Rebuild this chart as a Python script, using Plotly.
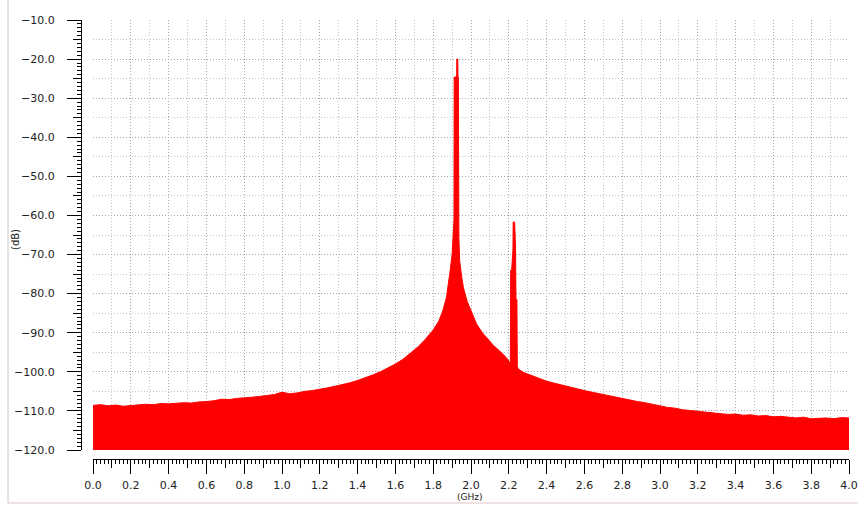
import plotly.graph_objects as go

# ---------------- data ----------------
freq_ghz = [
    0.00, 0.04, 0.08, 0.12, 0.16, 0.20, 0.24, 0.28, 0.32, 0.36,
    0.40, 0.44, 0.48, 0.52, 0.56, 0.60, 0.64, 0.68, 0.72, 0.76,
    0.80, 0.84, 0.88, 0.92, 0.96, 1.00, 1.04, 1.08, 1.12, 1.16,
    1.20, 1.24, 1.28, 1.32, 1.36, 1.40, 1.44, 1.48, 1.52, 1.56,
    1.60, 1.64, 1.68, 1.72, 1.76, 1.80, 1.83, 1.85, 1.87, 1.88,
    1.89, 1.90, 1.905, 1.908, 1.910, 1.911, 1.924, 1.925, 1.930, 1.931,
    1.933, 1.936, 1.94, 1.95, 1.96, 1.98, 2.00, 2.03, 2.06, 2.09,
    2.12, 2.15, 2.18, 2.20, 2.208, 2.210, 2.215, 2.222, 2.223, 2.231,
    2.232, 2.236, 2.238, 2.243, 2.245, 2.25, 2.28, 2.32, 2.36, 2.40,
    2.44, 2.48, 2.52, 2.56, 2.60, 2.64, 2.68, 2.72, 2.76, 2.80,
    2.84, 2.88, 2.92, 2.96, 3.00, 3.04, 3.08, 3.12, 3.16, 3.20,
    3.24, 3.28, 3.32, 3.36, 3.40, 3.44, 3.48, 3.52, 3.56, 3.60,
    3.64, 3.68, 3.72, 3.76, 3.80, 3.84, 3.88, 3.92, 3.96, 4.00,
]
level_db = [
    -108.6, -108.4, -108.7, -108.5, -108.8, -108.6, -108.5, -108.3, -108.4, -108.1,
    -108.2, -108.0, -107.9, -108.0, -107.7, -107.6, -107.4, -107.0, -107.1, -106.8,
    -106.7, -106.5, -106.3, -106.1, -105.8, -105.2, -105.6, -105.4, -105.0, -104.8,
    -104.5, -104.1, -103.7, -103.3, -102.8, -102.2, -101.6, -100.8, -100.0, -99.1,
    -98.0, -96.8, -95.3, -93.6, -91.6, -89.3, -87.0, -84.5, -81.0, -78.0,
    -74.0, -70.0, -66.0, -61.0, -61.0, -24.6, -24.6, -20.0, -20.0, -24.6,
    -24.6, -66.0, -71.5, -75.5, -78.5, -82.0, -84.5, -87.8, -90.0, -91.8,
    -93.3, -94.6, -96.0, -97.2, -98.3, -74.0, -74.0, -68.8, -61.7, -61.7,
    -68.8, -68.8, -81.5, -81.5, -98.6, -99.3, -100.2, -101.0, -101.8, -102.4,
    -102.9, -103.4, -103.9, -104.3, -104.8, -105.2, -105.6, -106.0, -106.5, -106.9,
    -107.2, -107.6, -107.9, -108.3, -108.7, -109.1, -109.3, -109.7, -109.9, -110.1,
    -110.3, -110.5, -110.6, -110.9, -110.8, -111.1, -111.0, -111.3, -111.2, -111.5,
    -111.4, -111.6, -111.8, -111.6, -112.0, -111.9, -111.8, -112.0, -111.7, -111.8,
]
floor_freq = [0.0, 4.0]
floor_db = [-120.0, -120.0]

x_range = [0.0, 4.0]
y_range = [-120.0, -10.0]
x_label = "(GHz)"
y_label = "(dB)"

# ---------------- layout geometry ----------------
W, H = 858, 505
X_DOM = [93 / W, 849 / W]
Y_DOM = [1 - 450 / H, 1 - 20 / H]
X_AXIS_POS = 1 - 459 / H
Y_AXIS_POS = 81 / W

tick_font = dict(family="DejaVu Sans, Verdana, sans-serif", size=11, color="#222222")

fig = go.Figure()
fig.add_trace(go.Scatter(x=floor_freq, y=floor_db, mode="lines",
                         line=dict(width=0, color="#ff0000"),
                         hoverinfo="skip", showlegend=False))
fig.add_trace(go.Scatter(x=freq_ghz, y=level_db, mode="lines",
                         line=dict(color="#ff0000", width=1),
                         fill="tonexty", fillcolor="#ff0000", showlegend=False))
# invisible helper traces so the tick axes are drawn
fig.add_trace(go.Scatter(x=x_range, y=y_range, xaxis="x2", yaxis="y2", mode="markers",
                         marker=dict(opacity=0), hoverinfo="skip", showlegend=False))
fig.add_trace(go.Scatter(x=x_range, y=y_range, xaxis="x3", yaxis="y3", mode="markers",
                         marker=dict(opacity=0), hoverinfo="skip", showlegend=False))

grid_major = "#a8a8a8"
grid_minor = "#c4c4c4"
grid_dash = "1px,2px"

fig.update_layout(
    width=W, height=H, autosize=False,
    margin=dict(l=0, r=0, t=0, b=0, autoexpand=False),
    paper_bgcolor="white", plot_bgcolor="white",
    showlegend=False,
    xaxis=dict(domain=X_DOM, range=x_range, anchor="y", automargin=False,
               tick0=0, dtick=0.2, showgrid=True, gridcolor=grid_major, griddash=grid_dash,
               gridwidth=1, showticklabels=False, ticks="", showline=False, zeroline=False,
               minor=dict(dtick=0.1, showgrid=True, gridcolor=grid_minor, griddash=grid_dash)),
    yaxis=dict(domain=Y_DOM, range=y_range, anchor="x", automargin=False,
               tick0=0, dtick=10, showgrid=True, gridcolor=grid_major, griddash=grid_dash,
               gridwidth=1, showticklabels=False, ticks="", showline=False, zeroline=False,
               minor=dict(dtick=5, showgrid=True, gridcolor=grid_minor, griddash=grid_dash)),
    xaxis2=dict(domain=X_DOM, range=x_range, overlaying="x", anchor="free",
                position=X_AXIS_POS, side="bottom", automargin=False,
                tick0=0, dtick=0.2, tickformat=".1f", ticks="outside", ticklen=14,
                tickwidth=1, tickcolor="#000000", showline=True, linecolor="#000000",
                linewidth=1, showgrid=False, zeroline=False, tickfont=tick_font,
                ticklabelstandoff=2,
                minor=dict(dtick=0.02, ticks="outside", ticklen=4, tickcolor="#000000",
                           tickwidth=1, showgrid=False)),
    yaxis2=dict(domain=Y_DOM, range=y_range, overlaying="y", anchor="free",
                position=Y_AXIS_POS, side="left", automargin=False,
                tick0=0, dtick=10, tickformat=".1f", ticks="outside", ticklen=14,
                tickwidth=1, tickcolor="#000000", showline=True, linecolor="#000000",
                linewidth=1, showgrid=False, zeroline=False, tickfont=tick_font,
                ticklabelstandoff=10,
                minor=dict(dtick=1, ticks="outside", ticklen=4, tickcolor="#000000",
                           tickwidth=1, showgrid=False)),
    xaxis3=dict(domain=X_DOM, range=x_range, overlaying="x", anchor="free",
                position=X_AXIS_POS, side="bottom", automargin=False,
                tick0=0, dtick=0.1, ticks="outside", ticklen=8, tickwidth=1,
                tickcolor="#000000", showticklabels=False, showline=False,
                showgrid=False, zeroline=False),
    yaxis3=dict(domain=Y_DOM, range=y_range, overlaying="y", anchor="free",
                position=Y_AXIS_POS, side="left", automargin=False,
                tick0=0, dtick=5, ticks="outside", ticklen=8, tickwidth=1,
                tickcolor="#000000", showticklabels=False, showline=False,
                showgrid=False, zeroline=False),
    annotations=[
        dict(text=y_label, xref="paper", yref="paper", x=15 / W, y=1 - 240 / H,
             textangle=-90, showarrow=False, xanchor="center", yanchor="middle",
             font=dict(family="DejaVu Sans, sans-serif", size=10, color="#222222")),
        dict(text=x_label, xref="paper", yref="paper", x=470 / W, y=1 - 503 / H,
             showarrow=False, xanchor="center", yanchor="bottom", borderpad=0,
             font=dict(family="DejaVu Sans, sans-serif", size=9, color="#222222")),
    ],
    shapes=[
        dict(type="line", xref="paper", yref="paper", x0=8 / W, x1=8 / W,
             y0=1 - 503 / H, y1=1.0, line=dict(color="#c8c8c8", width=1)),
        dict(type="line", xref="paper", yref="paper", x0=8 / W, x1=1.0,
             y0=1 - 503 / H, y1=1 - 503 / H, line=dict(color="#dcc4c4", width=1)),
    ],
)

fig.write_html("out.html")
